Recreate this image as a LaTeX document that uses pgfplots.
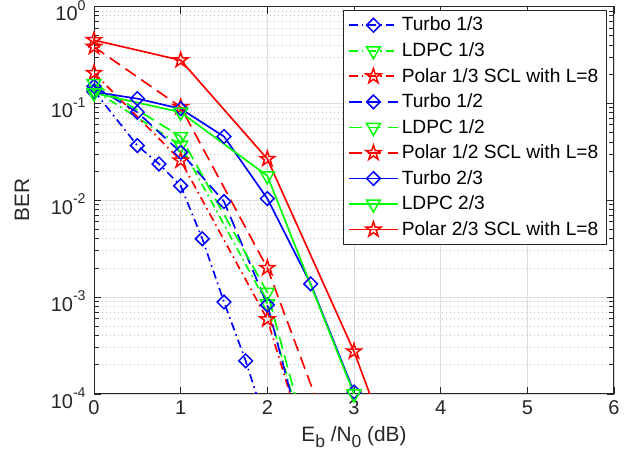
\documentclass[border=0pt]{standalone}
\usepackage{fontspec}
\setmainfont{Liberation Sans}
\usepackage{pgfplots}
\pgfplotsset{compat=1.18}

\definecolor{axgray}{RGB}{38,38,38}
\definecolor{gridgray}{RGB}{222,222,222}
\definecolor{mblue}{RGB}{0,0,255}
\definecolor{mgreen}{RGB}{0,255,0}
\definecolor{mred}{RGB}{255,0,0}

% open five-pointed star like MATLAB's pentagram
\pgfdeclareplotmark{pentagram}{%
  \pgfpathmoveto{\pgfpointpolar{90}{\pgfplotmarksize}}%
  \pgfpathlineto{\pgfpointpolar{126}{0.382\pgfplotmarksize}}%
  \pgfpathlineto{\pgfpointpolar{162}{\pgfplotmarksize}}%
  \pgfpathlineto{\pgfpointpolar{198}{0.382\pgfplotmarksize}}%
  \pgfpathlineto{\pgfpointpolar{234}{\pgfplotmarksize}}%
  \pgfpathlineto{\pgfpointpolar{270}{0.382\pgfplotmarksize}}%
  \pgfpathlineto{\pgfpointpolar{306}{\pgfplotmarksize}}%
  \pgfpathlineto{\pgfpointpolar{342}{0.382\pgfplotmarksize}}%
  \pgfpathlineto{\pgfpointpolar{18}{\pgfplotmarksize}}%
  \pgfpathlineto{\pgfpointpolar{54}{0.382\pgfplotmarksize}}%
  \pgfpathclose
  \pgfusepathqstroke
}

\newcommand{\sub}[1]{\raisebox{-0.5ex}{\fontsize{10.5}{11}\selectfont #1}}
\newcommand{\dec}[1]{10\raisebox{6.3pt}{\fontsize{8.5}{9}\selectfont #1}}

\pgfplotsset{
  dd/.style={dash pattern=on 5pt off 2.5pt on 1pt off 2.5pt},
  ds/.style={dash pattern=on 7.5pt off 4pt},
  turbo/.style={mblue, line width=1pt, mark=square, mark size=2.9pt,
    mark options={solid, rotate=45, line width=0.9pt}},
  ldpc/.style={mgreen, line width=1pt, mark=triangle, mark size=4.8pt,
    mark options={solid, rotate=180, line width=0.9pt}},
  polar/.style={mred, line width=1pt, mark=pentagram, mark size=4.7pt,
    mark options={solid, line width=0.9pt}},
}

\begin{document}
\begin{tikzpicture}
\begin{axis}[
    scale only axis,
    width=312pt, height=232.5pt,
    ymode=log,
    xmin=0, xmax=6,
    ymin=1e-4, ymax=1,
    xtick={0,1,2,3,4,5,6},
    ytick={1e-4,1e-3,1e-2,1e-1,1},
    yticklabels={\dec{-4},\dec{-3},\dec{-2},\dec{-1},\dec{0}},
    /pgf/number format/assume math mode=true,
    xmajorgrids, ymajorgrids, yminorgrids,
    major grid style={gridgray, line width=0.5pt},
    minor grid style={gray!55, dotted, line width=0.5pt},
    axis line style={axgray, line width=0.6pt},
    tick style={axgray, line width=0.5pt},
    tick label style={axgray, font=\fontsize{12}{14}\selectfont},
    xticklabel style={yshift=-0.6pt},
    yticklabel style={anchor=base east, xshift=-1.5pt, yshift=-8.5pt},
    label style={axgray, font=\fontsize{12.5}{14}\selectfont},
    xlabel={E\sub{b} /N\sub{0} (dB)},
    ylabel={BER},
    xlabel style={at={(axis description cs:0.5,-0.111)}, anchor=center},
    ylabel style={at={(axis description cs:-0.1385,0.5)}, anchor=center},
    legend style={at={(1,1)}, anchor=north east, xshift=-4.2pt, yshift=-2.1pt,
      draw=axgray, fill=white,
      font=\fontsize{11.5}{13}\selectfont, row sep=1.5pt},
    legend cell align=left,
    legend image code/.code={%
      \draw[mark repeat=2, mark phase=2, #1]
        plot coordinates {(0pt,0pt) (14.5pt,0pt) (29pt,0pt)};},
]
\coordinate (ll) at (rel axis cs:0,0);
\coordinate (ur) at (rel axis cs:1,1);

% Turbo 1/3
\addplot[turbo, dd] coordinates {
  (0,0.135) (0.5,0.0367) (0.75,0.0237) (1,0.0141) (1.25,0.0040)
  (1.5,8.9e-4) (1.75,2.2e-4) (2,4.4e-5)
};
\addlegendentry{Turbo 1/3}

% LDPC 1/3
\addplot[ldpc, dd] coordinates {
  (0,0.137) (1,0.037) (2,8.5e-4) (2.5,1.9e-5)
};
\addlegendentry{LDPC 1/3}

% Polar 1/3
\addplot[polar, dd] coordinates {
  (0,0.206) (1,0.0257) (2,5.9e-4) (2.5,2e-5)
};
\addlegendentry{Polar 1/3 SCL with L=8}

% Turbo 1/2
\addplot[turbo, ds] coordinates {
  (0,0.15) (0.5,0.081) (1,0.0313) (1.5,0.0097) (2,8.3e-4) (2.5,1.7e-5)
};
\addlegendentry{Turbo 1/2}

% LDPC 1/2
\addplot[ldpc, ds] coordinates {
  (0,0.16) (1,0.0455) (2,1.12e-3) (2.5,2.5e-5)
};
\addlegendentry{LDPC 1/2}

% Polar 1/2
\addplot[polar, ds] coordinates {
  (0,0.383) (1,0.0916) (2,2.0e-3) (3,8e-6)
};
\addlegendentry{Polar 1/2 SCL with L=8}

% Turbo 2/3
\addplot[turbo] coordinates {
  (0,0.131) (0.5,0.112) (1,0.088) (1.5,0.0455) (2,0.0104) (2.5,1.37e-3) (3,1.05e-4)
};
\addlegendentry{Turbo 2/3}

% LDPC 2/3
\addplot[ldpc] coordinates {
  (0,0.128) (1,0.081) (2,0.0179) (3,1e-4)
};
\addlegendentry{LDPC 2/3}

% Polar 2/3
\addplot[polar] coordinates {
  (0,0.45) (1,0.279) (2,0.0267) (3,2.75e-4) (3.5,1.7e-5)
};
\addlegendentry{Polar 2/3 SCL with L=8}

\end{axis}
\pgfresetboundingbox
\path[use as bounding box] ([shift={(-56.4pt,-43.2pt)}]ll) rectangle ([shift={(13.8pt,3.9pt)}]ur);
\end{tikzpicture}
\end{document}
